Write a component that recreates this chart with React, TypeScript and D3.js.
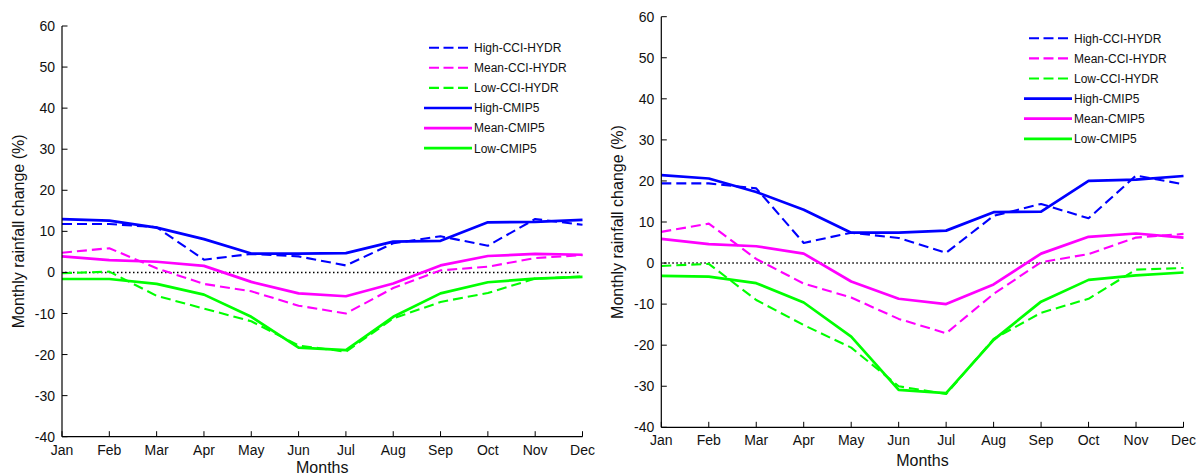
import React from "react";
import * as d3 from "d3";

const months = ["Jan", "Feb", "Mar", "Apr", "May", "Jun", "Jul", "Aug", "Sep", "Oct", "Nov", "Dec"];
const yTicks = [60, 50, 40, 30, 20, 10, 0, -10, -20, -30, -40];

// Left panel
const leftHighCCI = [11.8, 11.8, 11.0, 3.1, 4.5, 3.9, 1.7, 7.1, 8.8, 6.5, 13.0, 11.6];
const leftMeanCCI = [4.8, 5.9, 1.0, -2.8, -4.6, -8.1, -10.0, -3.8, 0.5, 1.4, 3.5, 4.2];
const leftLowCCI = [-0.2, 0.2, -5.7, -8.8, -11.9, -17.8, -19.3, -11.2, -7.2, -5.0, -1.5, -1.0];
const leftHighCMIP = [13.0, 12.6, 10.9, 8.1, 4.6, 4.6, 4.7, 7.5, 7.7, 12.2, 12.3, 12.8];
const leftMeanCMIP = [3.9, 3.0, 2.6, 1.6, -2.3, -5.1, -5.8, -2.7, 1.7, 4.0, 4.5, 4.3];
const leftLowCMIP = [-1.6, -1.6, -2.8, -5.4, -10.8, -18.3, -18.9, -10.8, -5.1, -2.4, -1.5, -1.1];

// Right panel
const rightHighCCI = [19.4, 19.4, 18.2, 4.9, 7.4, 6.1, 2.5, 11.5, 14.4, 10.9, 21.3, 19.2];
const rightMeanCCI = [7.6, 9.6, 1.0, -5.0, -8.4, -13.6, -17.1, -7.5, 0.2, 2.2, 6.2, 7.1];
const rightLowCCI = [-0.7, -0.2, -9.0, -15.1, -20.6, -30.0, -31.9, -18.5, -12.1, -8.7, -1.6, -1.2];
const rightHighCMIP = [21.4, 20.6, 17.3, 13.0, 7.4, 7.4, 7.9, 12.4, 12.5, 20.0, 20.3, 21.2];
const rightMeanCMIP = [5.9, 4.6, 4.1, 2.3, -4.5, -8.7, -10.0, -5.2, 2.3, 6.4, 7.2, 6.2];
const rightLowCMIP = [-3.1, -3.3, -4.9, -9.6, -17.9, -30.9, -31.7, -18.7, -9.4, -4.1, -3.0, -2.3];

const legendLabels = ["High-CCI-HYDR", "Mean-CCI-HYDR", "Low-CCI-HYDR", "High-CMIP5", "Mean-CMIP5", "Low-CMIP5"];

const BLUE = "#0000ff";
const MAGENTA = "#ff00ff";
const GREEN = "#00ff00";
const FONT = "'Liberation Sans', Arial, Helvetica, sans-serif";

type Series = { label: string; values: number[]; color: string; dashed: boolean };

type PanelProps = {
  x0: number;
  x1: number;
  yTop: number;
  yBottom: number;
  series: Series[];
  legendX: number;
  legendY: number;
  ylabelX: number;
  xlabelY: number;
};

function Panel({ x0, x1, yTop, yBottom, series, legendX, legendY, ylabelX, xlabelY }: PanelProps) {
  const x = d3.scalePoint<string>().domain(months).range([x0, x1]);
  const y = d3.scaleLinear().domain([-40, 60]).range([yBottom, yTop]);
  const line = d3
    .line<number>()
    .x((_, i) => x(months[i]) as number)
    .y((d) => y(d));
  const tick = 5.5;
  const legendStep = 20.1;
  return (
    <g>
      <line
        x1={x0 + 3}
        x2={x1 - 3}
        y1={y(0)}
        y2={y(0)}
        stroke="#000"
        strokeWidth={1.5}
        strokeDasharray="1.5,2.5"
      />
      {series.map((s, i) => (
        <path
          key={i}
          d={line(s.values) || ""}
          fill="none"
          stroke={s.color}
          strokeWidth={s.dashed ? 2.1 : 2.7}
          strokeDasharray={s.dashed ? "10,5" : undefined}
          strokeLinejoin="round"
        />
      ))}
      <line x1={x0} x2={x0} y1={yTop} y2={yBottom} stroke="#000" strokeWidth={1.2} />
      <line x1={x0} x2={x1} y1={yBottom} y2={yBottom} stroke="#000" strokeWidth={1.2} />
      {yTicks.map((t) => (
        <g key={t}>
          <line x1={x0} x2={x0 + tick} y1={y(t)} y2={y(t)} stroke="#000" strokeWidth={1} />
          <text
            x={x0 - 7}
            y={y(t)}
            dy="0.36em"
            textAnchor="end"
            fontSize={14}
            fontFamily={FONT}
            fill="#111"
          >
            {t}
          </text>
        </g>
      ))}
      {months.map((m) => (
        <g key={m}>
          <line
            x1={x(m) as number}
            x2={x(m) as number}
            y1={yBottom}
            y2={yBottom - tick}
            stroke="#000"
            strokeWidth={1}
          />
          <text
            x={x(m) as number}
            y={yBottom + 18}
            textAnchor="middle"
            fontSize={14}
            fontFamily={FONT}
            fill="#111"
          >
            {m}
          </text>
        </g>
      ))}
      <text
        x={(x0 + x1) / 2}
        y={xlabelY}
        textAnchor="middle"
        fontSize={16}
        fontFamily={FONT}
        fill="#111"
      >
        Months
      </text>
      <text
        transform={`translate(${ylabelX},${(yTop + yBottom) / 2}) rotate(-90)`}
        textAnchor="middle"
        fontSize={16}
        fontFamily={FONT}
        fill="#111"
      >
        Monthly rainfall change (%)
      </text>
      {series.map((s, i) => {
        const ly = legendY + i * legendStep;
        return (
          <g key={"lg" + i}>
            <line
              x1={s.dashed ? legendX + 5 : legendX}
              x2={legendX + 48}
              y1={ly}
              y2={ly}
              stroke={s.color}
              strokeWidth={s.dashed ? 2.1 : 2.7}
              strokeDasharray={s.dashed ? "10,4.5" : undefined}
            />
            <text x={legendX + 50} y={ly} dy="0.36em" fontSize={12} fontFamily={FONT} fill="#111">
              {s.label}
            </text>
          </g>
        );
      })}
    </g>
  );
}

export default function App() {
  const leftSeries: Series[] = [
    { label: legendLabels[0], values: leftHighCCI, color: BLUE, dashed: true },
    { label: legendLabels[1], values: leftMeanCCI, color: MAGENTA, dashed: true },
    { label: legendLabels[2], values: leftLowCCI, color: GREEN, dashed: true },
    { label: legendLabels[3], values: leftHighCMIP, color: BLUE, dashed: false },
    { label: legendLabels[4], values: leftMeanCMIP, color: MAGENTA, dashed: false },
    { label: legendLabels[5], values: leftLowCMIP, color: GREEN, dashed: false },
  ];
  const rightSeries: Series[] = [
    { label: legendLabels[0], values: rightHighCCI, color: BLUE, dashed: true },
    { label: legendLabels[1], values: rightMeanCCI, color: MAGENTA, dashed: true },
    { label: legendLabels[2], values: rightLowCCI, color: GREEN, dashed: true },
    { label: legendLabels[3], values: rightHighCMIP, color: BLUE, dashed: false },
    { label: legendLabels[4], values: rightMeanCMIP, color: MAGENTA, dashed: false },
    { label: legendLabels[5], values: rightLowCMIP, color: GREEN, dashed: false },
  ];
  return (
    <svg
      width={1201}
      height={475}
      style={{ position: "absolute", left: 0, top: 0, background: "#fff", display: "block" }}
    >
      <rect x={0} y={0} width={1201} height={475} fill="#fff" />
      <Panel
        x0={62}
        x1={582.5}
        yTop={26}
        yBottom={436.7}
        series={leftSeries}
        legendX={424}
        legendY={47.7}
        ylabelX={24}
        xlabelY={472.5}
      />
      <Panel
        x0={661.3}
        x1={1183.5}
        yTop={16.7}
        yBottom={427.3}
        series={rightSeries}
        legendX={1024}
        legendY={38.3}
        ylabelX={623}
        xlabelY={466}
      />
    </svg>
  );
}
